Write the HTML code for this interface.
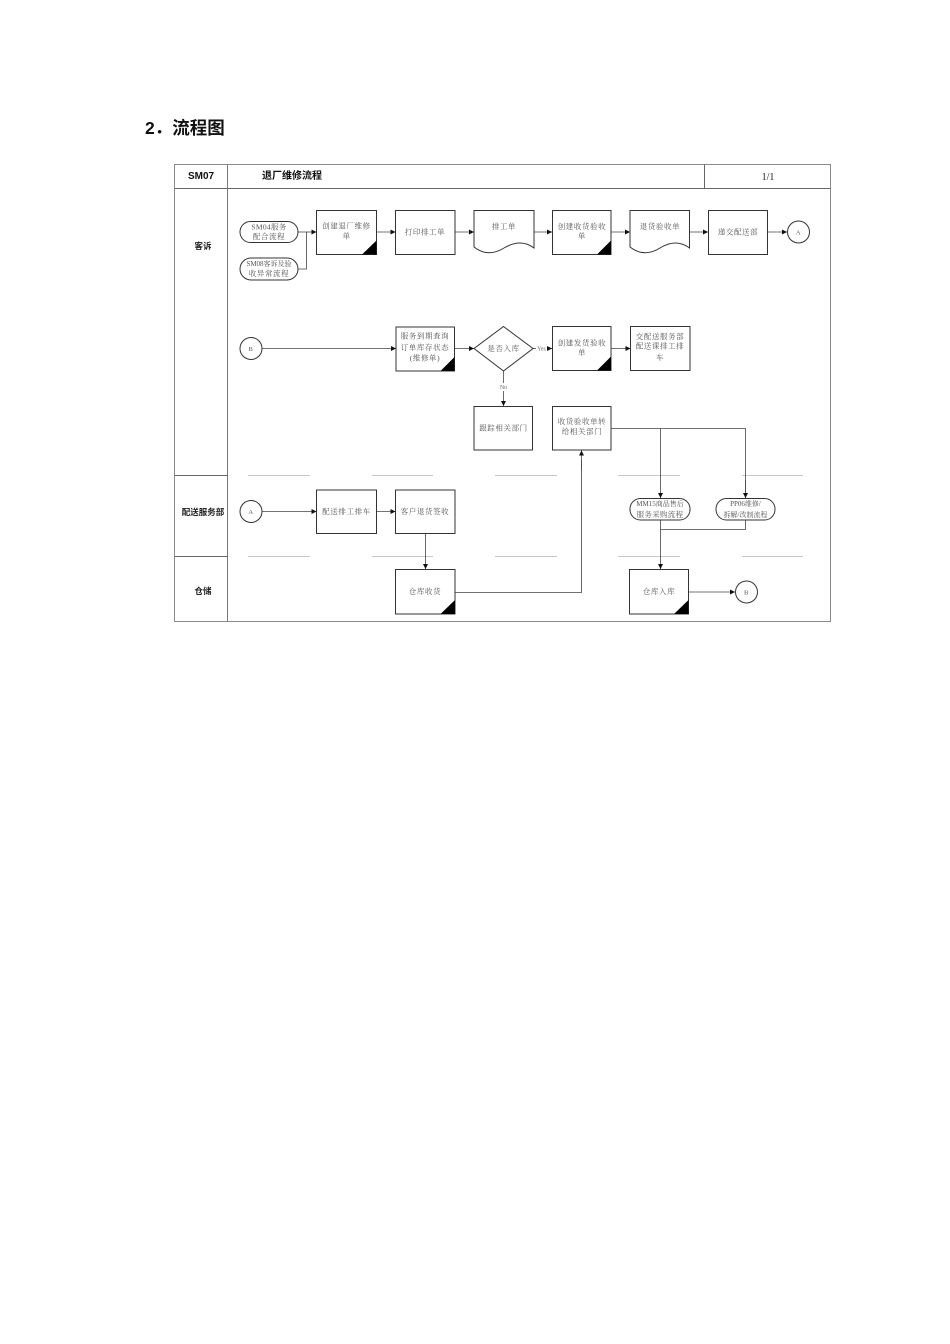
<!DOCTYPE html>
<html><head><meta charset="utf-8">
<style>
html,body{margin:0;padding:0;background:#fff;}
body{width:950px;height:1344px;position:relative;overflow:hidden;}
svg{position:absolute;left:0;top:0;}
.t{font-family:"Liberation Serif","Noto Serif CJK SC",serif;font-size:7.5px;fill:#555;text-anchor:middle;letter-spacing:0.6px;}
.b{stroke:#333;stroke-width:1;fill:#fff;}
.c{stroke:#444;stroke-width:0.8;fill:none;}
.g{stroke:#c8c8c8;stroke-width:1;}
.lab{font-family:"Liberation Sans","Noto Sans CJK SC",sans-serif;font-weight:bold;font-size:8.5px;fill:#222;text-anchor:middle;}
</style></head><body>
<svg width="950" height="1344" viewBox="0 0 950 1344" xmlns="http://www.w3.org/2000/svg">
<defs>
<marker id="ar" viewBox="0 0 6 6" refX="6" refY="3" markerWidth="5" markerHeight="5" orient="auto" markerUnits="userSpaceOnUse">
<path d="M0,0 L6,3 L0,6 Z" fill="#111"/>
</marker>
</defs>

<text x="145" y="134" style="font-family:'Liberation Sans','Noto Sans CJK SC',sans-serif;font-weight:bold;font-size:17.5px;fill:#111;">2．流程图</text>

<!-- frame -->
<rect x="174.5" y="164.5" width="656" height="457" fill="none" stroke="#8a8a8a" stroke-width="1"/>
<line x1="174.5" y1="188.5" x2="830.5" y2="188.5" stroke="#666" stroke-width="1"/>
<line x1="227.5" y1="164.5" x2="227.5" y2="621.5" stroke="#777" stroke-width="1"/>
<line x1="704.5" y1="164.5" x2="704.5" y2="188.5" stroke="#666" stroke-width="1"/>
<line x1="174.5" y1="475.5" x2="227.5" y2="475.5" stroke="#666" stroke-width="1"/>
<line x1="174.5" y1="556.5" x2="227.5" y2="556.5" stroke="#666" stroke-width="1"/>

<text x="201" y="179" style="font-family:'Liberation Sans',sans-serif;font-weight:bold;font-size:10px;fill:#111;text-anchor:middle;">SM07</text>
<text x="262" y="179" style="font-family:'Liberation Sans','Noto Sans CJK SC',sans-serif;font-weight:bold;font-size:10px;fill:#111;">退厂维修流程</text>
<text x="768" y="180" style="font-family:'Liberation Serif',serif;font-size:10px;fill:#222;text-anchor:middle;">1/1</text>

<text class="lab" x="203" y="249">客诉</text>
<text class="lab" x="203" y="515">配送服务部</text>
<text class="lab" x="203" y="594">仓储</text>

<!-- lane dashes -->
<g class="g">
<line x1="248" y1="475.5" x2="310" y2="475.5"/><line x1="372" y1="475.5" x2="433" y2="475.5"/><line x1="495" y1="475.5" x2="557" y2="475.5"/><line x1="618" y1="475.5" x2="680" y2="475.5"/><line x1="742" y1="475.5" x2="803" y2="475.5"/>
<line x1="248" y1="556.5" x2="310" y2="556.5"/><line x1="372" y1="556.5" x2="433" y2="556.5"/><line x1="495" y1="556.5" x2="557" y2="556.5"/><line x1="618" y1="556.5" x2="680" y2="556.5"/><line x1="742" y1="556.5" x2="803" y2="556.5"/>
</g>

<!-- connectors -->
<g class="c">
<polyline points="298,232 306.5,232 306.5,269 298,269"/>
<line x1="306.5" y1="232" x2="316.5" y2="232" marker-end="url(#ar)"/>
<line x1="376.5" y1="232" x2="395.5" y2="232" marker-end="url(#ar)"/>
<line x1="455" y1="232" x2="474" y2="232" marker-end="url(#ar)"/>
<line x1="534" y1="232" x2="552" y2="232" marker-end="url(#ar)"/>
<line x1="611" y1="232" x2="630" y2="232" marker-end="url(#ar)"/>
<line x1="689" y1="232" x2="708" y2="232" marker-end="url(#ar)"/>
<line x1="767" y1="232" x2="787" y2="232" marker-end="url(#ar)"/>
<line x1="262" y1="348.5" x2="396" y2="348.5" marker-end="url(#ar)"/>
<line x1="454.5" y1="348.5" x2="474" y2="348.5" marker-end="url(#ar)"/>
<line x1="533" y1="348.5" x2="536" y2="348.5"/>
<line x1="548" y1="348.5" x2="552" y2="348.5" marker-end="url(#ar)"/>
<line x1="611" y1="348.5" x2="630.5" y2="348.5" marker-end="url(#ar)"/>
<line x1="503.5" y1="371" x2="503.5" y2="383"/>
<line x1="503.5" y1="391" x2="503.5" y2="406" marker-end="url(#ar)"/>
<polyline points="611,428.5 745.5,428.5 745.5,498"/>
<line x1="660.5" y1="428.5" x2="660.5" y2="498" marker-end="url(#ar)"/>
<line x1="745.5" y1="480" x2="745.5" y2="498" marker-end="url(#ar)"/>
<line x1="262" y1="511.5" x2="316.5" y2="511.5" marker-end="url(#ar)"/>
<line x1="376.5" y1="511.5" x2="395.5" y2="511.5" marker-end="url(#ar)"/>
<line x1="425.5" y1="533.5" x2="425.5" y2="569" marker-end="url(#ar)"/>
<polyline points="455,592.5 581.5,592.5 581.5,460"/>
<line x1="581.5" y1="470" x2="581.5" y2="450.5" marker-end="url(#ar)"/>
<line x1="660.5" y1="520" x2="660.5" y2="569" marker-end="url(#ar)"/>
<polyline points="745.5,520 745.5,529.5 660.5,529.5"/>
<line x1="688.5" y1="592" x2="735" y2="592" marker-end="url(#ar)"/>
</g>
<text x="541.5" y="350.5" style="font-family:'Liberation Serif',serif;font-size:6px;fill:#666;text-anchor:middle;">Yes</text>
<text x="503.5" y="389" style="font-family:'Liberation Serif',serif;font-size:6px;fill:#666;text-anchor:middle;">No</text>

<!-- row 1 -->
<rect class="b" x="240" y="221.5" width="58" height="21" rx="10.5"/>
<text class="t" x="269" y="229.5" style="letter-spacing:0.3px">SM04服务</text><text class="t" x="269" y="239">配合流程</text>
<rect class="b" x="240" y="258" width="58" height="22" rx="11"/>
<text class="t" x="269" y="266" style="letter-spacing:0;font-size:7px">SM08客诉及验</text><text class="t" x="269" y="276">收异常流程</text>

<rect class="b" x="316.5" y="210.5" width="60" height="44"/>
<path d="M362,254.5 L376.5,254.5 L376.5,240.5 Z" fill="#000"/>
<text class="t" x="346.5" y="228.5">创建退厂维修</text><text class="t" x="346.5" y="238.5">单</text>

<rect class="b" x="395.5" y="210.5" width="59.5" height="44"/>
<text class="t" x="425" y="234.5">打印排工单</text>

<path class="b" d="M474,210.5 H534 V248 Q521,238 504,248 Q488,258 474,247 Z"/>
<text class="t" x="504" y="229">排工单</text>

<rect class="b" x="552.5" y="210.5" width="58.5" height="44"/>
<path d="M597,254.5 L611,254.5 L611,240.5 Z" fill="#000"/>
<text class="t" x="582" y="229">创建收货验收</text><text class="t" x="582" y="238.5">单</text>

<path class="b" d="M630,210.5 H689.5 V248 Q676,238 660,248 Q644,258 630,247 Z"/>
<text class="t" x="660" y="229">退货验收单</text>

<rect class="b" x="708.5" y="210.5" width="59" height="44"/>
<text class="t" x="738" y="234.5">递交配送部</text>

<circle class="b" cx="798.5" cy="232" r="11"/>
<text class="t" x="798.5" y="234.5" style="font-size:6.5px">A</text>

<!-- row 2 -->
<circle class="b" cx="251" cy="348.5" r="11"/>
<text class="t" x="251" y="351" style="font-size:6.5px">B</text>

<rect class="b" x="396" y="327" width="58.5" height="44"/>
<path d="M440.5,371 L454.5,371 L454.5,357 Z" fill="#000"/>
<text class="t" x="425" y="338.5">服务到期查询</text><text class="t" x="425" y="350">订单库存状态</text><text class="t" x="425" y="360.5">(维修单)</text>

<path class="b" d="M503.5,326.5 L533,348.5 L503.5,371 L474,348.5 Z"/>
<text class="t" x="503.5" y="351">是否入库</text>

<rect class="b" x="552.5" y="326.5" width="58.5" height="44"/>
<path d="M597,370.5 L611,370.5 L611,356.5 Z" fill="#000"/>
<text class="t" x="582" y="345.5">创建发货验收</text><text class="t" x="582" y="355">单</text>

<rect class="b" x="630.5" y="326.5" width="59.5" height="44"/>
<text class="t" x="660" y="339">交配送服务部</text><text class="t" x="660" y="348.5">配送课排工排</text><text class="t" x="660" y="360">车</text>

<rect class="b" x="474" y="406.5" width="58.5" height="43.5"/>
<text class="t" x="503.5" y="430.5">跟踪相关部门</text>

<rect class="b" x="552.5" y="406.5" width="58.5" height="43.5"/>
<text class="t" x="582" y="424">收货验收单转</text><text class="t" x="582" y="434">给相关部门</text>

<!-- row 3 -->
<circle class="b" cx="251" cy="511.5" r="11"/>
<text class="t" x="251" y="514" style="font-size:6.5px">A</text>

<rect class="b" x="316.5" y="490" width="60" height="43.5"/>
<text class="t" x="346.5" y="514">配送排工排车</text>

<rect class="b" x="395.5" y="490" width="59.5" height="43.5"/>
<text class="t" x="425" y="514">客户退货签收</text>

<rect class="b" x="630" y="498.5" width="60" height="21.5" rx="10.5"/>
<text class="t" x="660" y="506" style="letter-spacing:0;font-size:7px">MM15商品售后</text><text class="t" x="660" y="517" style="letter-spacing:0.3px">服务采购流程</text>
<rect class="b" x="716" y="498.5" width="59" height="21.5" rx="10.5"/>
<text class="t" x="745.5" y="506" style="letter-spacing:0;font-size:7px">PP06维修/</text><text class="t" x="745.5" y="517" style="letter-spacing:0;font-size:7px">拆解/改制流程</text>

<!-- row 4 -->
<rect class="b" x="395.5" y="569.5" width="59.5" height="44.5"/>
<path d="M440.5,614 L455,614 L455,600 Z" fill="#000"/>
<text class="t" x="425" y="594">仓库收货</text>

<rect class="b" x="629.5" y="569.5" width="59" height="44.5"/>
<path d="M674,614 L688.5,614 L688.5,600 Z" fill="#000"/>
<text class="t" x="659" y="594">仓库入库</text>

<circle class="b" cx="746.5" cy="592" r="11"/>
<text class="t" x="746.5" y="594.5" style="font-size:6.5px">B</text>
</svg>
</body></html>
